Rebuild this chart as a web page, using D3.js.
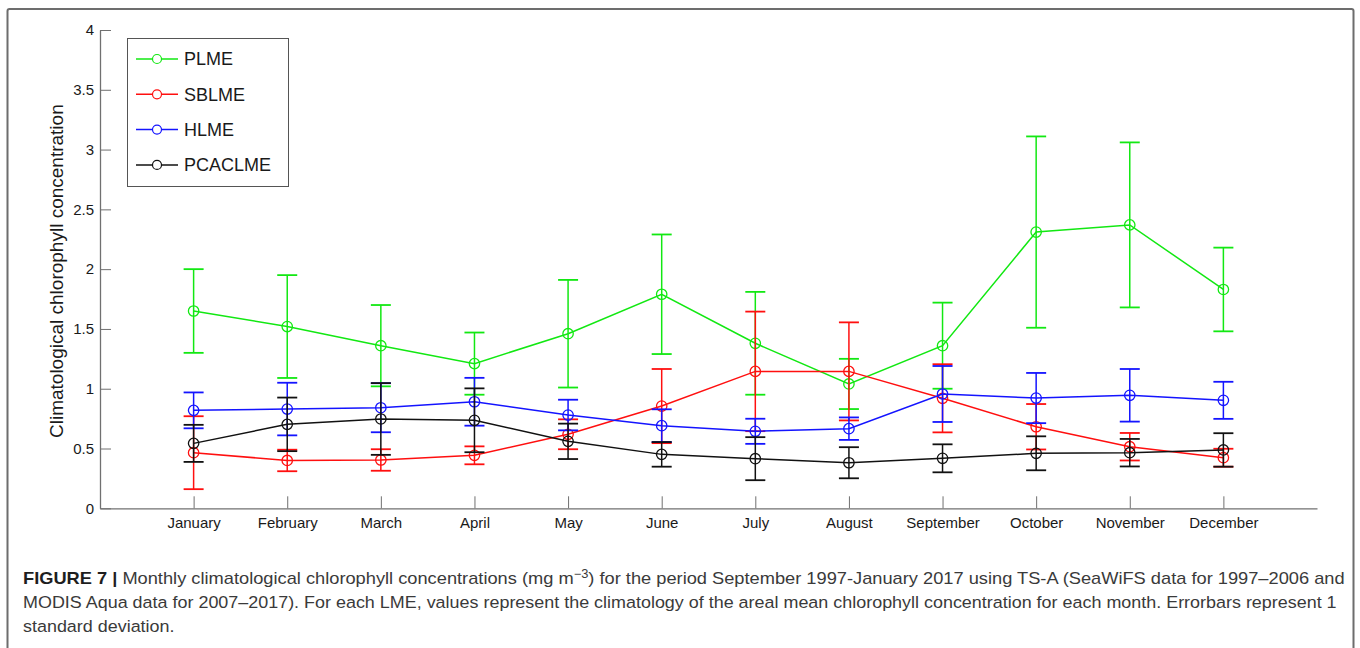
<!DOCTYPE html>
<html>
<head>
<meta charset="utf-8">
<script src="https://cdn.jsdelivr.net/npm/d3@7"></script>
<style>
  html, body { margin: 0; padding: 0; background: #fff; }
  svg { display: block; font-family: "Liberation Sans", Arial, sans-serif; }
</style>
</head>
<body>
<svg id="chart" width="1360" height="648"></svg>
<script>
// Months on the x axis
const months = ["January", "February", "March", "April", "May", "June",
                "July", "August", "September", "October", "November", "December"];

// Climatological mean chlorophyll (mg m^-3) per LME
const plmeMean    = [1.65, 1.52, 1.36, 1.21, 1.46, 1.79, 1.38, 1.04, 1.36, 2.31, 2.37, 1.83];
const sblmeMean   = [0.465, 0.40, 0.404, 0.443, 0.619, 0.855, 1.145, 1.145, 0.92, 0.682, 0.515, 0.423];
const hlmeMean    = [0.819, 0.83, 0.841, 0.891, 0.78, 0.691, 0.644, 0.666, 0.956, 0.922, 0.945, 0.903];
const pcaclmeMean = [0.543, 0.702, 0.747, 0.736, 0.56, 0.451, 0.415, 0.381, 0.418, 0.46, 0.465, 0.488];

// One standard deviation per month
const plmeSd    = [0.35, 0.43, 0.34, 0.26, 0.45, 0.50, 0.43, 0.21, 0.36, 0.80, 0.69, 0.35];
const sblmeSd   = [0.305, 0.09, 0.09, 0.075, 0.125, 0.31, 0.50, 0.41, 0.285, 0.19, 0.115, 0.075];
const hlmeSd    = [0.15, 0.22, 0.205, 0.20, 0.128, 0.137, 0.105, 0.094, 0.234, 0.21, 0.22, 0.155];
const pcaclmeSd = [0.155, 0.224, 0.30, 0.267, 0.148, 0.103, 0.18, 0.13, 0.117, 0.142, 0.115, 0.14];

const seriesNames  = ["PLME", "SBLME", "HLME", "PCACLME"];
const seriesColors = ["#12e812", "#ff0f0f", "#1414ff", "#111111"];
const yTicks = [0, 0.5, 1, 1.5, 2, 2.5, 3, 3.5, 4];

const series = [
  { name: seriesNames[0], color: seriesColors[0], mean: plmeMean,    sd: plmeSd },
  { name: seriesNames[1], color: seriesColors[1], mean: sblmeMean,   sd: sblmeSd },
  { name: seriesNames[2], color: seriesColors[2], mean: hlmeMean,    sd: hlmeSd },
  { name: seriesNames[3], color: seriesColors[3], mean: pcaclmeMean, sd: pcaclmeSd }
];

const svg = d3.select("#chart");

// Outer frame around figure and caption
svg.append("rect")
  .attr("x", 7.5).attr("y", 9).attr("width", 1346).attr("height", 700)
  .attr("rx", 2)
  .attr("fill", "none").attr("stroke", "#6d6d6d").attr("stroke-width", 2);

const plot = { left: 100, right: 1317, top: 30, bottom: 508.3 };

const x = d3.scalePoint().domain(months).range([plot.left, plot.right]).padding(1);
const y = d3.scaleLinear().domain([0, 4]).range([plot.bottom, plot.top]);

// Axes with inward ticks
const axisColor = "#707070";
const yAxis = svg.append("g")
  .attr("transform", `translate(${plot.left},0)`)
  .call(d3.axisLeft(y).tickValues(yTicks).tickFormat(d3.format("~g"))
        .tickSizeInner(-11).tickSizeOuter(0).tickPadding(6));
const xAxis = svg.append("g")
  .attr("transform", `translate(0,${plot.bottom})`)
  .call(d3.axisBottom(x).tickSizeInner(-12).tickSizeOuter(0).tickPadding(9));

[yAxis, xAxis].forEach(g => {
  g.select(".domain").attr("stroke", axisColor).attr("stroke-width", 1.3);
  g.selectAll(".tick line").attr("stroke", axisColor).attr("stroke-width", 1);
  g.selectAll(".tick text").attr("fill", "#1a1a1a").style("font-size", "15px")
    .style("font-family", "'Liberation Sans', Arial, sans-serif");
});

// Y axis title
svg.append("text")
  .attr("transform", `translate(63,${(plot.top + plot.bottom) / 2 + 2}) rotate(-90)`)
  .attr("text-anchor", "middle")
  .style("font-size", "19px")
  .attr("fill", "#1a1a1a")
  .text("Climatological chlorophyll concentration");

// Series: connecting line, error bars, circle markers
const capHalf = 10;
const line = d3.line().x((d, i) => x(months[i])).y(d => y(d));

series.forEach(s => {
  const g = svg.append("g").attr("class", "series");
  g.append("path")
    .attr("d", line(s.mean))
    .attr("fill", "none").attr("stroke", s.color).attr("stroke-width", 1.5);

  const bars = g.selectAll(".eb").data(s.mean.map((m, i) => ({ m, sd: s.sd[i], month: months[i] })))
    .enter().append("g").attr("class", "eb");
  bars.append("line")
    .attr("x1", d => x(d.month)).attr("x2", d => x(d.month))
    .attr("y1", d => y(d.m + d.sd)).attr("y2", d => y(d.m - d.sd))
    .attr("stroke", s.color).attr("stroke-width", 1.5);
  bars.append("line")
    .attr("x1", d => x(d.month) - capHalf).attr("x2", d => x(d.month) + capHalf)
    .attr("y1", d => y(d.m + d.sd)).attr("y2", d => y(d.m + d.sd))
    .attr("stroke", s.color).attr("stroke-width", 1.8);
  bars.append("line")
    .attr("x1", d => x(d.month) - capHalf).attr("x2", d => x(d.month) + capHalf)
    .attr("y1", d => y(d.m - d.sd)).attr("y2", d => y(d.m - d.sd))
    .attr("stroke", s.color).attr("stroke-width", 1.8);

  g.selectAll("circle").data(s.mean).enter().append("circle")
    .attr("cx", (d, i) => x(months[i])).attr("cy", d => y(d))
    .attr("r", 5.2)
    .attr("fill", "none").attr("stroke", s.color).attr("stroke-width", 1.3);
});

// Legend
const legend = svg.append("g");
legend.append("rect")
  .attr("x", 127.5).attr("y", 38.5).attr("width", 161).attr("height", 148)
  .attr("fill", "#fff").attr("stroke", "#555").attr("stroke-width", 1);
series.forEach((s, i) => {
  const ly = 59 + i * 35.3;
  legend.append("line")
    .attr("x1", 136).attr("x2", 178).attr("y1", ly).attr("y2", ly)
    .attr("stroke", s.color).attr("stroke-width", 1.5);
  legend.append("circle")
    .attr("cx", 157).attr("cy", ly).attr("r", 4.5)
    .attr("fill", "#fff").attr("stroke", s.color).attr("stroke-width", 1.2);
  legend.append("text")
    .attr("x", 184).attr("y", ly).attr("dy", "0.36em")
    .style("font-size", "18px").attr("fill", "#1a1a1a")
    .text(s.name);
});

// Caption
const capLeft = 23;
const capFont = "17px";
const cap = svg.append("g").style("font-size", capFont).attr("fill", "#3a3a3a");

const l1 = cap.append("text").attr("x", capLeft).attr("y", 584);
l1.append("tspan").attr("font-weight", "bold").attr("fill", "#1e1e1e").text("FIGURE 7 | ");
l1.append("tspan").text("Monthly climatological chlorophyll concentrations (mg m");
l1.append("tspan").attr("dy", -6).style("font-size", "12px").text("\u22123");
l1.append("tspan").attr("dy", 6).text(") for the period September 1997-January 2017 using TS-A (SeaWiFS data for 1997\u20132006 and");

const l2 = cap.append("text").attr("x", capLeft).attr("y", 608)
  .text("MODIS Aqua data for 2007\u20132017). For each LME, values represent the climatology of the areal mean chlorophyll concentration for each month. Errorbars represent 1");
const l3 = cap.append("text").attr("x", capLeft).attr("y", 632)
  .text("standard deviation.");

// Condense caption lines horizontally to the column width
function fit(t, width) {
  const w = t.node().getComputedTextLength();
  const k = width / w;
  t.attr("transform", `translate(${capLeft},0) scale(${k},1) translate(${-capLeft},0)`);
  return k;
}
const k1 = fit(l1, 1323);
const k2 = fit(l2, 1314);
l3.attr("transform", `translate(${capLeft},0) scale(${k2},1) translate(${-capLeft},0)`);
</script>
</body>
</html>
